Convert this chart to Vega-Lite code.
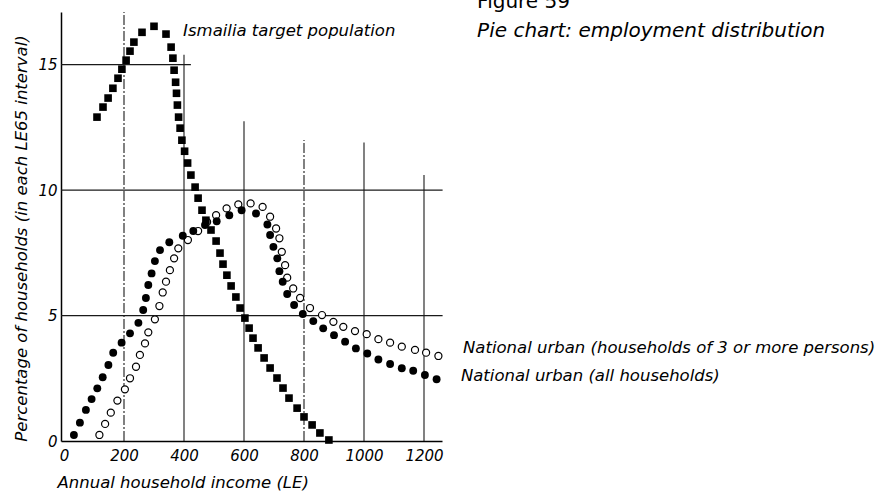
{
  "$schema": "https://vega.github.io/schema/vega-lite/v6.json",
  "autosize": {"type": "none"},
  "padding": {"left": 61, "top": 12, "right": 448, "bottom": 56},
  "width": 381,
  "height": 429,
  "background": "white",
  "config": {
    "view": {"stroke": null},
    "font": "DejaVu Sans"
  },
  "datasets": {
    "points": [
      {"series": "ismailia", "income": 110, "pct": 12.91},
      {"series": "ismailia", "income": 130, "pct": 13.31},
      {"series": "ismailia", "income": 147, "pct": 13.67},
      {"series": "ismailia", "income": 163, "pct": 14.06},
      {"series": "ismailia", "income": 180, "pct": 14.46},
      {"series": "ismailia", "income": 193, "pct": 14.82},
      {"series": "ismailia", "income": 207, "pct": 15.18},
      {"series": "ismailia", "income": 220, "pct": 15.54},
      {"series": "ismailia", "income": 233, "pct": 15.9},
      {"series": "ismailia", "income": 260, "pct": 16.29},
      {"series": "ismailia", "income": 300, "pct": 16.53},
      {"series": "ismailia", "income": 340, "pct": 16.22},
      {"series": "ismailia", "income": 357, "pct": 15.7},
      {"series": "ismailia", "income": 363, "pct": 15.26},
      {"series": "ismailia", "income": 367, "pct": 14.78},
      {"series": "ismailia", "income": 372, "pct": 14.3},
      {"series": "ismailia", "income": 375, "pct": 13.86},
      {"series": "ismailia", "income": 378, "pct": 13.39},
      {"series": "ismailia", "income": 382, "pct": 12.91},
      {"series": "ismailia", "income": 387, "pct": 12.47},
      {"series": "ismailia", "income": 393, "pct": 11.99},
      {"series": "ismailia", "income": 402, "pct": 11.55},
      {"series": "ismailia", "income": 412, "pct": 11.08},
      {"series": "ismailia", "income": 423, "pct": 10.6},
      {"series": "ismailia", "income": 437, "pct": 10.12},
      {"series": "ismailia", "income": 447, "pct": 9.68},
      {"series": "ismailia", "income": 460, "pct": 9.2},
      {"series": "ismailia", "income": 473, "pct": 8.8},
      {"series": "ismailia", "income": 490, "pct": 8.41},
      {"series": "ismailia", "income": 507, "pct": 7.97},
      {"series": "ismailia", "income": 520, "pct": 7.49},
      {"series": "ismailia", "income": 530, "pct": 7.05},
      {"series": "ismailia", "income": 543, "pct": 6.61},
      {"series": "ismailia", "income": 557, "pct": 6.18},
      {"series": "ismailia", "income": 573, "pct": 5.74},
      {"series": "ismailia", "income": 587, "pct": 5.3},
      {"series": "ismailia", "income": 603, "pct": 4.9},
      {"series": "ismailia", "income": 617, "pct": 4.5},
      {"series": "ismailia", "income": 630, "pct": 4.1},
      {"series": "ismailia", "income": 647, "pct": 3.71},
      {"series": "ismailia", "income": 667, "pct": 3.31},
      {"series": "ismailia", "income": 687, "pct": 2.91},
      {"series": "ismailia", "income": 710, "pct": 2.51},
      {"series": "ismailia", "income": 730, "pct": 2.11},
      {"series": "ismailia", "income": 750, "pct": 1.71},
      {"series": "ismailia", "income": 777, "pct": 1.31},
      {"series": "ismailia", "income": 800, "pct": 0.96},
      {"series": "ismailia", "income": 827, "pct": 0.64},
      {"series": "ismailia", "income": 853, "pct": 0.32},
      {"series": "ismailia", "income": 883, "pct": 0.04},

      {"series": "all", "income": 33, "pct": 0.24},
      {"series": "all", "income": 53, "pct": 0.73},
      {"series": "all", "income": 73, "pct": 1.24},
      {"series": "all", "income": 92, "pct": 1.67},
      {"series": "all", "income": 111, "pct": 2.1},
      {"series": "all", "income": 129, "pct": 2.54},
      {"series": "all", "income": 148, "pct": 3.03},
      {"series": "all", "income": 164, "pct": 3.52},
      {"series": "all", "income": 192, "pct": 3.92},
      {"series": "all", "income": 220, "pct": 4.29},
      {"series": "all", "income": 248, "pct": 4.71},
      {"series": "all", "income": 264, "pct": 5.22},
      {"series": "all", "income": 273, "pct": 5.7},
      {"series": "all", "income": 281, "pct": 6.22},
      {"series": "all", "income": 292, "pct": 6.68},
      {"series": "all", "income": 303, "pct": 7.17},
      {"series": "all", "income": 320, "pct": 7.61},
      {"series": "all", "income": 351, "pct": 7.92},
      {"series": "all", "income": 396, "pct": 8.18},
      {"series": "all", "income": 431, "pct": 8.37},
      {"series": "all", "income": 470, "pct": 8.61},
      {"series": "all", "income": 509, "pct": 8.76},
      {"series": "all", "income": 551, "pct": 9.0},
      {"series": "all", "income": 592, "pct": 9.2},
      {"series": "all", "income": 640, "pct": 9.07},
      {"series": "all", "income": 678, "pct": 8.63},
      {"series": "all", "income": 687, "pct": 8.21},
      {"series": "all", "income": 698, "pct": 7.74},
      {"series": "all", "income": 711, "pct": 7.28},
      {"series": "all", "income": 718, "pct": 6.77},
      {"series": "all", "income": 729, "pct": 6.35},
      {"series": "all", "income": 744, "pct": 5.86},
      {"series": "all", "income": 767, "pct": 5.42},
      {"series": "all", "income": 796, "pct": 5.06},
      {"series": "all", "income": 831, "pct": 4.78},
      {"series": "all", "income": 864, "pct": 4.49},
      {"series": "all", "income": 900, "pct": 4.22},
      {"series": "all", "income": 937, "pct": 3.96},
      {"series": "all", "income": 973, "pct": 3.69},
      {"series": "all", "income": 1011, "pct": 3.49},
      {"series": "all", "income": 1048, "pct": 3.25},
      {"series": "all", "income": 1087, "pct": 3.07},
      {"series": "all", "income": 1126, "pct": 2.9},
      {"series": "all", "income": 1164, "pct": 2.8},
      {"series": "all", "income": 1203, "pct": 2.63},
      {"series": "all", "income": 1242, "pct": 2.46},

      {"series": "three", "income": 118, "pct": 0.24},
      {"series": "three", "income": 137, "pct": 0.68},
      {"series": "three", "income": 156, "pct": 1.13},
      {"series": "three", "income": 178, "pct": 1.61},
      {"series": "three", "income": 203, "pct": 2.06},
      {"series": "three", "income": 220, "pct": 2.5},
      {"series": "three", "income": 240, "pct": 2.96},
      {"series": "three", "income": 253, "pct": 3.43},
      {"series": "three", "income": 270, "pct": 3.89},
      {"series": "three", "income": 281, "pct": 4.33},
      {"series": "three", "income": 303, "pct": 4.85},
      {"series": "three", "income": 318, "pct": 5.38},
      {"series": "three", "income": 329, "pct": 5.92},
      {"series": "three", "income": 340, "pct": 6.35},
      {"series": "three", "income": 353, "pct": 6.81},
      {"series": "three", "income": 367, "pct": 7.28},
      {"series": "three", "income": 381, "pct": 7.68},
      {"series": "three", "income": 413, "pct": 8.01},
      {"series": "three", "income": 447, "pct": 8.37},
      {"series": "three", "income": 477, "pct": 8.73},
      {"series": "three", "income": 507, "pct": 9.0},
      {"series": "three", "income": 542, "pct": 9.27},
      {"series": "three", "income": 581, "pct": 9.43},
      {"series": "three", "income": 622, "pct": 9.47},
      {"series": "three", "income": 662, "pct": 9.33},
      {"series": "three", "income": 687, "pct": 8.94},
      {"series": "three", "income": 707, "pct": 8.47},
      {"series": "three", "income": 718, "pct": 8.08},
      {"series": "three", "income": 726, "pct": 7.54},
      {"series": "three", "income": 737, "pct": 7.01},
      {"series": "three", "income": 744, "pct": 6.51},
      {"series": "three", "income": 764, "pct": 6.08},
      {"series": "three", "income": 787, "pct": 5.7},
      {"series": "three", "income": 820, "pct": 5.3},
      {"series": "three", "income": 860, "pct": 5.02},
      {"series": "three", "income": 898, "pct": 4.75},
      {"series": "three", "income": 931, "pct": 4.55},
      {"series": "three", "income": 970, "pct": 4.38},
      {"series": "three", "income": 1009, "pct": 4.26},
      {"series": "three", "income": 1048, "pct": 4.06},
      {"series": "three", "income": 1087, "pct": 3.92},
      {"series": "three", "income": 1126, "pct": 3.76},
      {"series": "three", "income": 1170, "pct": 3.63},
      {"series": "three", "income": 1207, "pct": 3.52},
      {"series": "three", "income": 1248, "pct": 3.39}
    ],
    "vsolid": [
      {"gx": 400, "lo": 0, "hi": 15.4},
      {"gx": 600, "lo": 0, "hi": 12.75},
      {"gx": 1000, "lo": 0, "hi": 11.9},
      {"gx": 1200, "lo": 0, "hi": 10.6}
    ],
    "vdash": [
      {"gx": 200, "lo": 0, "hi": 17.1},
      {"gx": 800, "lo": 0, "hi": 12.0}
    ],
    "hgrid": [
      {"gy": 15, "x1": -10, "x2": 423},
      {"gy": 10, "x1": -10, "x2": 1262},
      {"gy": 5, "x1": -10, "x2": 1262}
    ],
    "headnotes": [
      {"label": "Pie chart: employment distribution", "nx": 1377, "ny": 16.1}
    ],
    "fignote": [
      {"label": "Figure 59", "nx": 1377, "ny": 17.25}
    ],
    "notes": [
      {"label": "Ismailia target population", "nx": 397, "ny": 16.14},
      {"label": "National urban (households of 3 or more persons)", "nx": 1330, "ny": 3.51},
      {"label": "National urban (all households)", "nx": 1323, "ny": 2.39}
    ]
  },
  "layer": [
    {
      "data": {"name": "vsolid"},
      "mark": {"type": "rule", "color": "#1a1a1a", "strokeWidth": 1.1},
      "encoding": {
        "x": {
          "field": "gx", "type": "quantitative",
          "scale": {"domain": [-10, 1260], "nice": false, "zero": false},
          "axis": {
            "values": [0, 200, 400, 600, 800, 1000, 1200],
            "format": "d",
            "ticks": false, "grid": false,
            "domainColor": "black", "domainWidth": 1.5,
            "labelFont": "DejaVu Sans", "labelFontStyle": "italic", "labelFontSize": 15, "labelColor": "black", "labelPadding": 7,
            "title": "Annual household income (LE)",
            "titleFont": "DejaVu Sans", "titleFontStyle": "italic", "titleFontWeight": "normal", "titleFontSize": 16.5, "titleColor": "black",
            "titlePadding": 11, "titleAnchor": "start", "titleAlign": "left", "titleX": -4
          }
        },
        "y": {
          "field": "lo", "type": "quantitative",
          "scale": {"domain": [0, 17.1], "nice": false, "zero": false},
          "axis": {
            "values": [0, 5, 10, 15],
            "format": "d",
            "ticks": false, "grid": false,
            "domainColor": "black", "domainWidth": 1.5,
            "labelFont": "DejaVu Sans", "labelFontStyle": "italic", "labelFontSize": 15, "labelColor": "black", "labelPadding": 4,
            "title": "Percentage of households (in each LE65 interval)",
            "titleFont": "DejaVu Sans", "titleFontStyle": "italic", "titleFontWeight": "normal", "titleFontSize": 16.5, "titleColor": "black",
            "titlePadding": 8, "titleY": 226
          }
        },
        "y2": {"field": "hi"}
      }
    },
    {
      "data": {"name": "vdash"},
      "mark": {"type": "rule", "color": "#1a1a1a", "strokeWidth": 1.1, "strokeDash": [10, 2, 2, 2]},
      "encoding": {
        "x": {"field": "gx", "type": "quantitative"},
        "y": {"field": "lo", "type": "quantitative"},
        "y2": {"field": "hi"}
      }
    },
    {
      "data": {"name": "hgrid"},
      "mark": {"type": "rule", "color": "#1a1a1a", "strokeWidth": 1.2},
      "encoding": {
        "y": {"field": "gy", "type": "quantitative"},
        "x": {"field": "x1", "type": "quantitative"},
        "x2": {"field": "x2"}
      }
    },
    {
      "data": {"name": "points"},
      "transform": [{"filter": "datum.series === 'three'"}],
      "mark": {"type": "point", "shape": "circle", "filled": true, "fill": "white", "stroke": "black", "strokeWidth": 1.2, "size": 50, "opacity": 1},
      "encoding": {
        "x": {"field": "income", "type": "quantitative"},
        "y": {"field": "pct", "type": "quantitative"}
      }
    },
    {
      "data": {"name": "points"},
      "transform": [{"filter": "datum.series === 'all'"}],
      "mark": {"type": "point", "shape": "circle", "filled": true, "color": "black", "size": 62, "opacity": 1},
      "encoding": {
        "x": {"field": "income", "type": "quantitative"},
        "y": {"field": "pct", "type": "quantitative"}
      }
    },
    {
      "data": {"name": "points"},
      "transform": [{"filter": "datum.series === 'ismailia'"}],
      "mark": {"type": "point", "shape": "square", "filled": true, "color": "black", "size": 58, "opacity": 1},
      "encoding": {
        "x": {"field": "income", "type": "quantitative"},
        "y": {"field": "pct", "type": "quantitative"}
      }
    },
    {
      "data": {"name": "notes"},
      "mark": {"type": "text", "align": "left", "baseline": "alphabetic", "font": "DejaVu Sans", "fontStyle": "italic", "fontSize": 16.5, "color": "black"},
      "encoding": {
        "x": {"field": "nx", "type": "quantitative"},
        "y": {"field": "ny", "type": "quantitative"},
        "text": {"field": "label"}
      }
    },
    {
      "data": {"name": "headnotes"},
      "mark": {"type": "text", "align": "left", "baseline": "alphabetic", "font": "DejaVu Sans", "fontStyle": "italic", "fontSize": 20, "color": "black"},
      "encoding": {
        "x": {"field": "nx", "type": "quantitative"},
        "y": {"field": "ny", "type": "quantitative"},
        "text": {"field": "label"}
      }
    },
    {
      "data": {"name": "fignote"},
      "mark": {"type": "text", "align": "left", "baseline": "alphabetic", "font": "DejaVu Sans", "fontSize": 20, "color": "black"},
      "encoding": {
        "x": {"field": "nx", "type": "quantitative"},
        "y": {"field": "ny", "type": "quantitative"},
        "text": {"field": "label"}
      }
    }
  ]
}
